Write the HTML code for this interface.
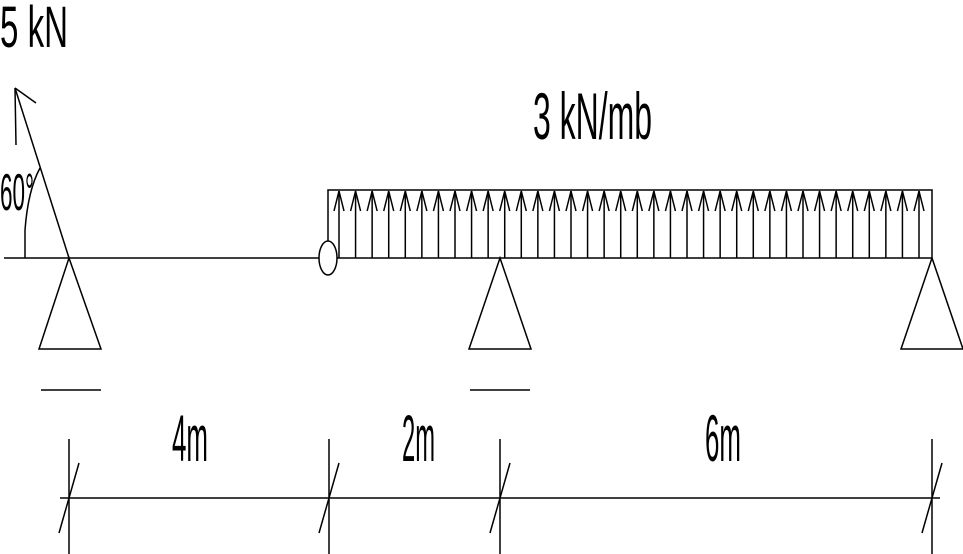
<!DOCTYPE html>
<html><head><style>html,body{margin:0;padding:0;background:#fff;}svg{display:block}</style></head>
<body>
<svg width="963" height="554" viewBox="0 0 963 554" xmlns="http://www.w3.org/2000/svg" font-family="Liberation Sans, sans-serif">
<g stroke="#000" stroke-width="1.5" fill="none">
<!-- beam -->
<line x1="4" y1="258" x2="319" y2="258"/>
<line x1="337" y1="258" x2="932" y2="258"/>
<ellipse cx="328" cy="258" rx="9" ry="17" fill="#fff"/>
<!-- load box -->
<polyline points="328,241 328,190 932,190 932,258"/>
<g id="arrows"></g>
<!-- supports -->
<polygon points="69,258 39,349 101,349"/>
<polygon points="500,258 469,349 531,349"/>
<polygon points="932,258 901,349 963,349"/>
<line x1="41" y1="390" x2="101" y2="390"/>
<line x1="470" y1="390" x2="530" y2="390"/>
<!-- force -->
<line x1="69" y1="258" x2="15" y2="88"/>
<line x1="15" y1="88" x2="36" y2="103"/>
<line x1="15" y1="88" x2="16" y2="145"/>
<path d="M25,258 L25,230 Q28,190 40,168"/>
<!-- dimension -->
<line x1="60" y1="498" x2="940" y2="498"/>
<line x1="69" y1="439" x2="69" y2="554"/>
<line x1="329" y1="439" x2="329" y2="554"/>
<line x1="500" y1="439" x2="500" y2="554"/>
<line x1="932" y1="439" x2="932" y2="554"/>
<line x1="59" y1="533" x2="79" y2="463"/>
<line x1="319" y1="533" x2="339" y2="463"/>
<line x1="490" y1="533" x2="510" y2="463"/>
<line x1="922" y1="533" x2="942" y2="463"/>
</g>
<g fill="#000" font-size="58">
<text x="0" y="47" textLength="68" lengthAdjust="spacingAndGlyphs">5 kN</text>
<text x="533" y="139" font-size="66" textLength="119" lengthAdjust="spacingAndGlyphs">3 kN/mb</text>
<text x="0" y="210" font-size="52" textLength="34" lengthAdjust="spacingAndGlyphs">60°</text>
<text x="172" y="461" font-size="66" textLength="36" lengthAdjust="spacingAndGlyphs">4m</text>
<text x="402" y="461" font-size="66" textLength="33" lengthAdjust="spacingAndGlyphs">2m</text>
<text x="705" y="461" font-size="66" textLength="36" lengthAdjust="spacingAndGlyphs">6m</text>
</g>
</svg>
<script>
var g=document.getElementById('arrows'),s='';
for(var i=0;i<36;i++){var x=339+i*(919-339)/35;
s+='<line x1="'+x+'" y1="191" x2="'+x+'" y2="258"/><polyline points="'+(x-5)+',211 '+x+',191 '+(x+5)+',211"/>';}
g.innerHTML=s;
</script>
</body></html>
